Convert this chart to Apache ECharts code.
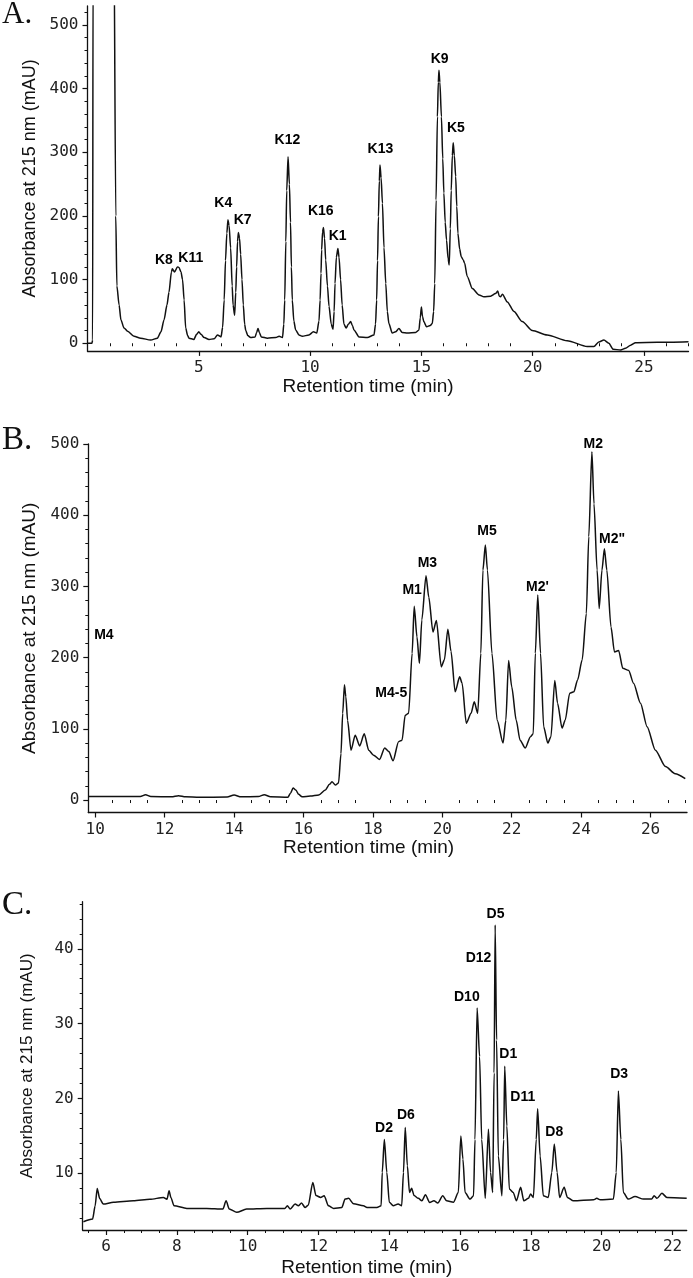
<!DOCTYPE html>
<html><head><meta charset="utf-8">
<script src="https://cdn.jsdelivr.net/npm/echarts@6/dist/echarts.min.js"></script>
<style>html,body{margin:0;padding:0;background:#fff}#c{width:693px;height:1278px}</style>
</head><body><div id="c"></div>
<script>
// ---------- Panel A (retention time min, absorbance mAU) ----------
const traceA = [[0,0],[0.2,0],[0.23,5],[0.25,600],[1.2,600],[1.23,600],[1.27,200],[1.32,90],[1.42,60],[1.5,37],[1.64,24],[1.8,19],[2.09,11],[2.39,8],[2.84,5],[3.14,8],[3.3,18],[3.44,37],[3.57,60],[3.66,80],[3.77,112],[3.81,117],[3.91,112],[4.04,120],[4.11,119],[4.2,112],[4.27,100],[4.34,68],[4.41,24],[4.5,12],[4.56,8],[4.78,6],[4.9,14],[5.0,18],[5.1,14],[5.24,9],[5.46,6],[5.69,7],[5.84,13],[6.0,10],[6.07,25],[6.14,68],[6.2,130],[6.26,173],[6.31,194],[6.36,185],[6.43,150],[6.5,90],[6.54,60],[6.61,44],[6.66,80],[6.7,120],[6.74,160],[6.78,174],[6.83,165],[6.88,140],[6.94,100],[7.0,60],[7.06,30],[7.11,20],[7.2,12],[7.33,9],[7.53,10],[7.6,17],[7.66,23],[7.72,17],[7.81,10],[8.08,8],[8.46,9],[8.61,11],[8.76,9],[8.82,30],[8.86,68],[8.91,160],[8.95,240],[9.01,293],[9.07,250],[9.12,190],[9.16,120],[9.2,68],[9.27,35],[9.35,21],[9.5,13],[9.65,11],[9.95,13],[10.15,18],[10.3,16],[10.4,35],[10.45,68],[10.49,110],[10.52,147],[10.56,175],[10.6,182],[10.65,165],[10.7,131],[10.78,90],[10.85,58],[10.95,30],[11.03,22],[11.08,50],[11.12,94],[11.18,135],[11.25,149],[11.3,135],[11.37,100],[11.44,60],[11.52,30],[11.62,24],[11.72,30],[11.82,34],[11.9,28],[11.97,21],[12.2,10],[12.57,9],[12.87,13],[12.94,30],[12.99,68],[13.03,130],[13.07,199],[13.11,255],[13.14,280],[13.19,260],[13.25,220],[13.32,150],[13.4,94],[13.47,50],[13.54,31],[13.69,16],[13.84,18],[13.99,23],[14.14,17],[14.37,16],[14.74,17],[14.89,21],[14.95,40],[15.0,57],[15.05,42],[15.11,34],[15.23,26],[15.4,28],[15.49,31],[15.55,50],[15.6,94],[15.66,225],[15.72,356],[15.76,410],[15.79,429],[15.83,410],[15.9,356],[15.96,290],[16.01,236],[16.07,190],[16.13,162],[16.2,133],[16.25,123],[16.3,180],[16.34,240],[16.39,295],[16.43,315],[16.48,295],[16.54,262],[16.59,215],[16.64,173],[16.72,148],[16.79,136],[16.88,131],[16.94,126],[17.06,105],[17.29,86],[17.59,76],[17.81,73],[18.11,74],[18.33,78],[18.43,82],[18.5,74],[18.55,73],[18.64,77],[18.86,65],[19.16,50],[19.53,34],[19.98,20],[20.65,13],[21.55,4],[22.45,-5],[22.75,-5],[22.97,2],[23.2,5],[23.42,0],[23.62,-9.5],[23.95,-10.5],[24.17,-8],[24.4,-3],[24.62,1],[25.6,1.5],[27.0,2.5]];
const labelNamesA = ['K8','K11','K4','K7','K12','K16','K1','K13','K9','K5'];
const labelXA = [3.43,4.64,6.10,6.97,8.98,10.48,11.24,13.16,15.82,16.55];
const labelYA = [131,134,220,194,319,207,168,305,447,338];
const xTicksA = [5,10,15,20,25];
const xMinorA = [1,2,3,4,6,7,8,9,11,12,13,14,16,17,18,19,21,22,23,24,26,27];
const yTicksA = [0,100,200,300,400,500];
const yMinorA = [20,40,60,80,120,140,160,180,220,240,260,280,320,340,360,380,420,440,460,480,520];

// ---------- Panel B ----------
const traceB = [[9.8,5],[10.5,4.8],[11.3,5],[11.45,7.5],[11.6,5],[12.2,4.5],[12.4,6],[12.6,4.5],[13.0,3.8],[13.8,4.2],[14.0,7],[14.2,4.5],[14.7,5],[14.87,7.5],[15.05,4.5],[15.55,4],[15.63,10],[15.7,17],[15.78,14],[15.86,8],[15.96,4.5],[16.2,5.5],[16.44,7],[16.63,14],[16.75,22],[16.82,25.7],[16.92,21],[17.01,24],[17.08,65],[17.13,122],[17.18,162],[17.22,145],[17.27,112],[17.37,70],[17.49,91],[17.62,76],[17.75,93],[17.88,70],[18.02,63],[18.19,57],[18.34,73],[18.46,68],[18.58,55],[18.74,82],[18.84,84],[18.93,119],[19.03,122],[19.13,206],[19.19,272],[19.27,229],[19.34,192],[19.41,253],[19.53,315],[19.61,285],[19.73,236],[19.83,252],[19.97,187],[20.06,197],[20.16,240],[20.25,209],[20.37,152],[20.5,173],[20.57,164],[20.69,108],[20.83,122],[20.92,138],[21.02,122],[21.11,206],[21.17,323],[21.24,358],[21.3,323],[21.43,206],[21.58,112],[21.75,80],[21.83,112],[21.91,196],[22.0,159],[22.13,112],[22.24,84],[22.39,73],[22.54,89],[22.62,93],[22.68,206],[22.75,288],[22.83,206],[22.92,103],[23.04,80],[23.13,89],[23.24,168],[23.32,136],[23.45,101],[23.54,112],[23.67,150],[23.79,152],[23.9,169],[24.03,197],[24.15,262],[24.22,370],[24.31,489],[24.37,416],[24.46,323],[24.52,269],[24.6,323],[24.67,353],[24.74,323],[24.86,243],[24.96,208],[25.08,210],[25.2,185],[25.37,182],[25.51,164],[25.71,136],[25.9,103],[26.14,70],[26.43,47],[26.71,37],[27.0,30]];
const labelNamesB = ['M4','M4-5','M1','M3','M5',"M2'",'M2','M2"'];
const labelXB = [10.25,18.53,19.13,19.57,21.29,22.74,24.35,24.89];
const labelYB = [232,150,295,332,377,299,500,367];
const xTicksB = [10,12,14,16,18,20,22,24,26];
const xMinorB = [10.5,11,11.5,12.5,13,13.5,14.5,15,15.5,16.5,17,17.5,18.5,19,19.5,20.5,21,21.5,22.5,23,23.5,24.5,25,25.5,26.5,27];
const yTicksB = [0,100,200,300,400,500];
const yMinorB = [20,40,60,80,120,140,160,180,220,240,260,280,320,340,360,380,420,440,460,480];

// ---------- Panel C ----------
const traceC = [[5.36,3.5],[5.62,3.87],[5.69,5.6],[5.75,7.96],[5.82,6.6],[5.92,5.87],[6.21,6.1],[6.77,6.3],[7.24,6.5],[7.62,6.76],[7.72,6.5],[7.78,7.64],[7.83,6.76],[7.92,5.64],[8.28,5.29],[8.84,5.29],[9.3,5.2],[9.39,6.3],[9.48,5.2],[9.69,4.76],[9.97,5.2],[10.54,5.29],[11.05,5.29],[11.12,5.64],[11.2,5.2],[11.34,5.87],[11.43,5.64],[11.52,6.0],[11.62,5.42],[11.71,5.7],[11.84,8.76],[11.93,7.0],[12.06,6.76],[12.16,6.98],[12.28,5.64],[12.43,5.29],[12.66,5.42],[12.75,6.53],[12.85,6.63],[12.99,5.9],[13.27,5.64],[13.37,5.42],[13.65,5.42],[13.77,5.64],[13.8,10.1],[13.86,14.5],[13.93,10.1],[14.0,6.1],[14.11,5.64],[14.25,5.87],[14.35,5.64],[14.4,10.1],[14.45,16.1],[14.51,10.98],[14.57,7.42],[14.63,7.98],[14.7,7.0],[14.82,6.63],[14.92,6.3],[15.02,7.1],[15.14,6.09],[15.26,6.3],[15.37,6.0],[15.51,6.98],[15.62,6.3],[15.81,6.1],[15.95,7.42],[16.02,14.98],[16.08,11.87],[16.14,7.42],[16.28,6.53],[16.38,6.98],[16.42,14.5],[16.48,32.1],[16.55,25.6],[16.61,14.5],[16.71,6.63],[16.8,15.87],[16.86,10.1],[16.92,7.42],[16.96,23.4],[16.99,43.2],[17.03,27.8],[17.08,12.3],[17.18,6.98],[17.23,14.5],[17.26,24.3],[17.32,16.3],[17.39,7.87],[17.5,7.42],[17.59,6.3],[17.71,8.1],[17.8,6.3],[17.93,6.63],[17.99,7.2],[18.07,6.76],[18.15,14.5],[18.19,18.6],[18.26,12.3],[18.35,6.98],[18.49,6.76],[18.59,10.1],[18.66,13.9],[18.74,10.1],[18.81,6.76],[18.94,8.1],[19.03,6.76],[19.2,6.3],[19.77,6.44],[19.86,6.63],[19.96,6.44],[20.33,6.53],[20.41,10.1],[20.47,21.0],[20.54,14.5],[20.61,7.42],[20.75,6.53],[20.94,6.87],[21.18,6.53],[21.41,6.53],[21.48,6.98],[21.56,6.63],[21.7,7.3],[21.84,6.76],[22.4,6.63]];
const labelNamesC = ['D2','D6','D10','D12','D5','D1','D11','D8','D3'];
const labelXC = [13.85,14.47,16.19,16.52,17.0,17.36,17.77,18.66,20.49];
const labelYC = [16.0,17.7,33.5,38.8,44.7,25.9,20.2,15.5,23.2];
const xTicksC = [6,8,10,12,14,16,18,20,22];
const xMinorC = [5.5,6.5,7,7.5,8.5,9,9.5,10.5,11,11.5,12.5,13,13.5,14.5,15,15.5,16.5,17,17.5,18.5,19,19.5,20.5,21,21.5];
const yTicksC = [10,20,30,40];
const yMinorC = [4,6,8,12,14,16,18,22,24,26,28,32,34,36,38,42,44,46];

const panelLetters = ['A.','B.','C.'];
const yTitle = 'Absorbance at 215 nm (mAU)';
const xTitle = 'Retention time (min)';

// ---------- layout ----------
const panels = [
  {grid:{left:87.5, top:5.9, width:601, height:345}, xMin:0, xMax:27, yMin:-12, yMax:530,
   trace:traceA, names:labelNamesA, lx:labelXA, ly:labelYA, xT:xTicksA, xM:xMinorA, yT:yTicksA, yM:yMinorA,
   xGap:23, xShift:20, yGap:48, yFont:18, letter:{x:2, y:15, size:31}},
  {grid:{left:88.3, top:444, width:598.7, height:368.5}, xMin:9.8, xMax:27.05, yMin:-17.5, yMax:500,
   trace:traceB, names:labelNamesB, lx:labelXB, ly:labelYB, xT:xTicksB, xM:xMinorB, yT:yTicksB, yM:yMinorB,
   xGap:24, xShift:19, yGap:48, yFont:19, letter:{x:2, y:440, size:33}},
  {grid:{left:82.7, top:901.7, width:604, height:329.3}, xMin:5.34, xMax:22.4, yMin:2.4, yMax:46.3,
   trace:traceC, names:labelNamesC, lx:labelXC, ly:labelYC, xT:xTicksC, xM:xMinorC, yT:yTicksC, yM:yMinorC,
   xGap:28, xShift:18, yGap:47, yFont:17, letter:{x:2, y:905, size:33}}
];

const INK = '#111';
const tickFont = {fontFamily:'DejaVu Sans Mono', fontSize:16, color:'#222'};
const grid = [], xAxis = [], yAxis = [], series = [], graphic = [];
panels.forEach((p, i) => {
  grid.push(Object.assign({containLabel:false}, p.grid));
  xAxis.push({type:'value', gridIndex:i, min:p.xMin, max:p.xMax, position:'bottom',
    axisLine:{show:true, onZero:false, lineStyle:{color:INK, width:1.3}},
    axisTick:{show:true, customValues:p.xT, length:5, lineStyle:{color:INK, width:1.2}},
    axisLabel:Object.assign({show:true, customValues:p.xT, margin:9}, tickFont),
    splitLine:{show:false},
    name:xTitle, nameLocation:'middle', nameGap:p.xGap,
    nameTextStyle:{fontFamily:'Liberation Sans', fontSize:19, color:INK, padding:[0, p.xShift*2, 0, 0]}});
  xAxis.push({type:'value', gridIndex:i, min:p.xMin, max:p.xMax, position:'bottom',
    axisLine:{show:false}, axisLabel:{show:false}, splitLine:{show:false},
    axisTick:{show:true, customValues:p.xM, length:3, lineStyle:{color:INK, width:1}}});
  yAxis.push({type:'value', gridIndex:i, min:p.yMin, max:p.yMax, position:'left',
    axisLine:{show:true, onZero:false, lineStyle:{color:INK, width:1.3}},
    axisTick:{show:true, customValues:p.yT, length:5, lineStyle:{color:INK, width:1.2}},
    axisLabel:Object.assign({show:true, customValues:p.yT, margin:9}, tickFont),
    splitLine:{show:false},
    name:yTitle, nameLocation:'middle', nameGap:p.yGap,
    nameTextStyle:{fontFamily:'Liberation Sans', fontSize:p.yFont, color:INK}});
  yAxis.push({type:'value', gridIndex:i, min:p.yMin, max:p.yMax, position:'left',
    axisLine:{show:false}, axisLabel:{show:false}, splitLine:{show:false},
    axisTick:{show:true, customValues:p.yM, length:3, lineStyle:{color:INK, width:1}}});
  series.push({type:'line', xAxisIndex:2*i, yAxisIndex:2*i, data:p.trace, symbol:'none', showSymbol:false,
    smooth:0.25, smoothMonotone:'x', clip:true, silent:true, lineStyle:{color:INK, width:1.5}});
  series.push({type:'scatter', xAxisIndex:2*i, yAxisIndex:2*i, clip:false, silent:true,
    data:p.names.map((n, k) => ({name:n, value:[p.lx[k], p.ly[k]]})),
    symbolSize:1, itemStyle:{color:'rgba(0,0,0,0)', opacity:1},
    label:{show:true, position:'inside', formatter:'{b}', fontFamily:'Liberation Sans', fontWeight:'bold',
      fontSize:14, color:'#000', opacity:1, textBorderWidth:0}});
  graphic.push({type:'text', x:p.letter.x, y:p.letter.y,
    style:{text:panelLetters[i], fontFamily:'Liberation Serif', fontSize:p.letter.size, fill:INK, align:'left', verticalAlign:'middle'}});
});

const chart = echarts.init(document.getElementById('c'), null, {renderer:'canvas'});
chart.setOption({animation:false, backgroundColor:'#fff', textStyle:{fontFamily:'Liberation Sans'},
  grid, xAxis, yAxis, series, graphic});
</script></body></html>
